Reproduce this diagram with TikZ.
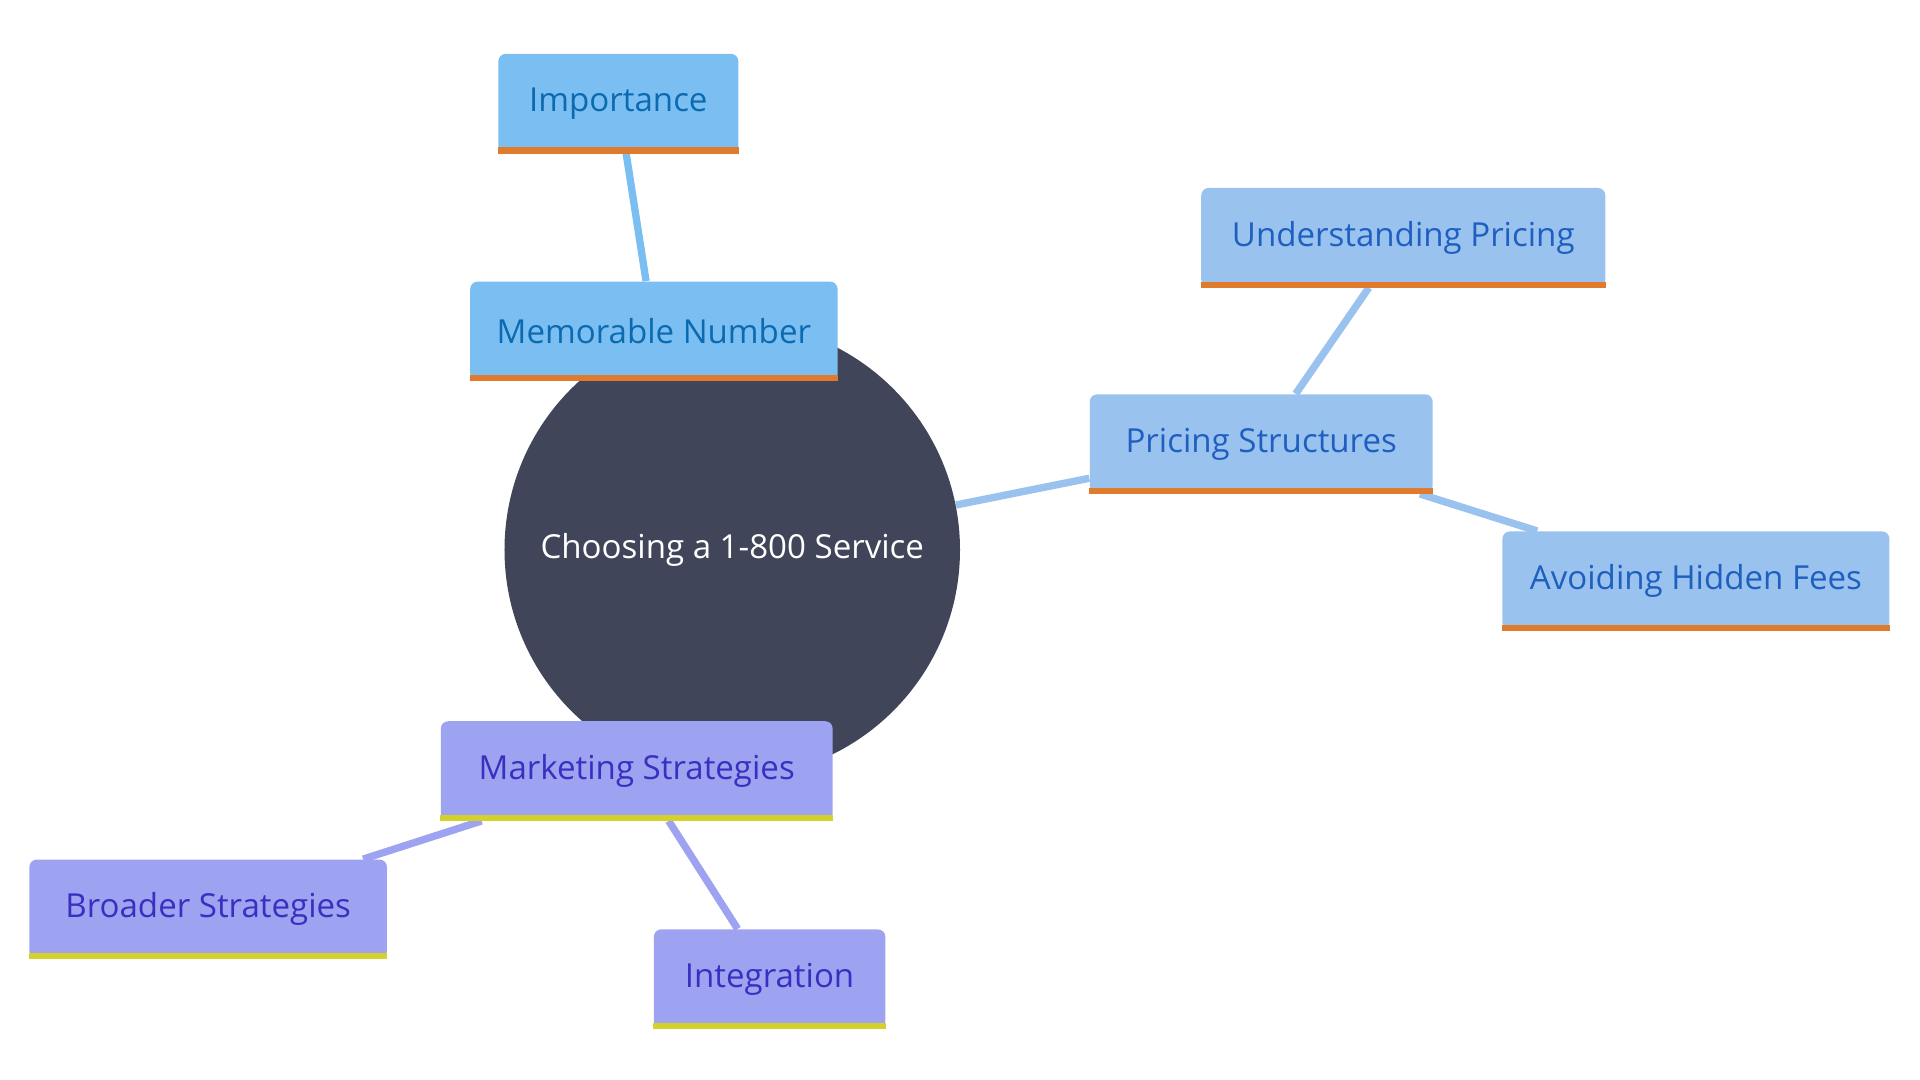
\documentclass[tikz,border=0pt]{standalone}
\usepackage{fontspec}
\setmainfont{Open Sans}
\usetikzlibrary{backgrounds}
\definecolor{hub}{HTML}{404559}
\definecolor{bA}{HTML}{7BBFF2}
\definecolor{tA}{HTML}{0B6AB0}
\definecolor{bB}{HTML}{9AC2EE}
\definecolor{tB}{HTML}{1F5FC0}
\definecolor{bC}{HTML}{9DA3F0}
\definecolor{tC}{HTML}{3A2FC0}
\definecolor{orng}{HTML}{E07B2D}
\definecolor{yel}{HTML}{D4D22A}
\tikzset{
  box/.style={rectangle,rounded corners=3pt,minimum height=40.5pt,inner sep=0pt,font=\fontsize{13.5}{16}\selectfont},
  boxA/.style={box,fill=bA,text=tA},
  boxB/.style={box,fill=bB,text=tB},
  boxC/.style={box,fill=bC,text=tC},
  link/.style={line width=3pt},
}
\newcommand{\boxbar}[2]{\fill[#2] ([yshift=2.5pt]#1.south west) rectangle (#1.south east);}
\begin{document}
\begin{tikzpicture}[x=0.5pt,y=-0.5pt]
\useasboundingbox (0,0) rectangle (1568,882);
\node[circle,fill=hub,minimum size=186pt,text=white,font=\fontsize{13.5}{16}\selectfont] (c) at (598,449) {Choosing a 1-800 Service};
\node[boxA,minimum width=98pt] (imp) at (505,84.5) {Importance};
\node[boxA,minimum width=150pt] (mem) at (534,270.5) {Memorable Number};
\node[boxB,minimum width=165pt] (und) at (1146,194) {Understanding Pricing};
\node[boxB,minimum width=140pt] (pri) at (1030,362.5) {Pricing Structures};
\node[boxB,minimum width=158pt] (avo) at (1385,474.5) {Avoiding Hidden Fees};
\node[boxC,minimum width=160pt] (mar) at (520,629.5) {Marketing Strategies};
\node[boxC,minimum width=146pt] (bro) at (170,742.5) {Broader Strategies};
\node[boxC,minimum width=94.5pt] (int) at (628.5,799.5) {Integration};
\boxbar{imp}{orng}\boxbar{mem}{orng}\boxbar{und}{orng}\boxbar{pri}{orng}\boxbar{avo}{orng}
\boxbar{mar}{yel}\boxbar{bro}{yel}\boxbar{int}{yel}
\begin{scope}[on background layer]
\draw[link,bA] (c) -- (mem);
\draw[link,bA] (mem) -- (imp);
\draw[link,bB] (c) -- (pri);
\draw[link,bB] (pri) -- (und);
\draw[link,bB] (pri) -- (avo);
\draw[link,bC] (c) -- (mar);
\draw[link,bC] (mar) -- (bro);
\draw[link,bC] (mar) -- (int);
\end{scope}
\end{tikzpicture}
\end{document}
